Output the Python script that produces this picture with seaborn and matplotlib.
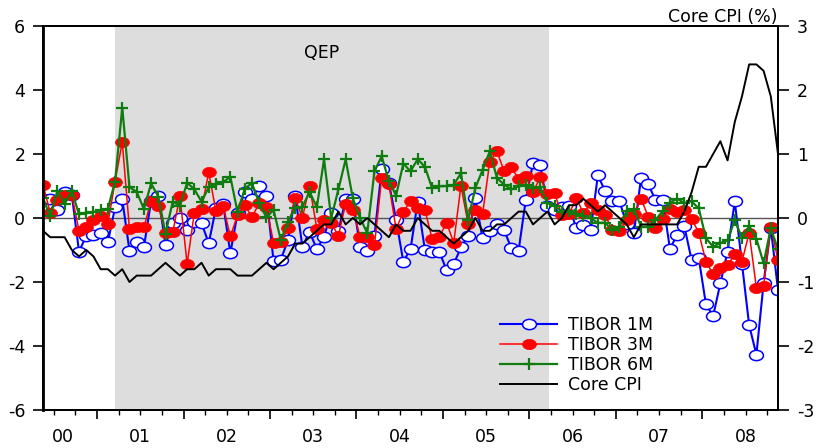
import numpy as np
import pandas as pd
import matplotlib
matplotlib.use("Agg")
import matplotlib.pyplot as plt
from matplotlib.path import Path
from matplotlib.ticker import FixedLocator, NullFormatter
import seaborn as sns

# ---------------- data (monthly, May 2000 - Nov 2008) ----------------
start_year = 2000
start_month = 5

tibor_1m = [0.60, 0.58, 0.25, 0.82, 0.72, -1.05, -0.56, -0.53, -0.46, -0.76,
            0.33, 0.58, -1.02, -0.76, -0.92, 0.54, 0.69, -0.83, -0.16, 0.01,
            -0.37, -0.11, -0.16, -0.79, 0.31, 0.44, -1.10, 0.15, 0.82, 0.60,
            1.00, 0.70, -1.35, -1.31, -0.68, 0.70, -0.90, -0.43, -0.98, -0.58,
            0.17, -0.40, 0.58, 0.58, -0.90, -1.02, -0.56, 1.52, 1.10, -0.06,
            -1.36, -0.98, 0.51, -1.00, -1.05, -1.05, -1.63, -1.44, -0.92, -0.56,
            0.61, -0.64, -0.40, -0.19, -0.38, -0.95, -1.02, 0.57, 1.72, 1.66,
            0.38, 0.25, 0.35, 0.39, -0.32, -0.21, -0.39, 1.33, 0.85, 0.52,
            0.53, -0.20, -0.48, 1.26, 1.05, 0.56, 0.57, -0.96, -0.53, -0.26,
            -1.30, -1.25, -2.70, -3.06, -2.04, -1.05, 0.52, -1.43, -3.35, -4.27,
            -2.04, -0.30, -2.25]

tibor_3m = [1.03, 0.17, 0.56, 0.72, 0.72, -0.40, -0.27, -0.06, 0.05, -0.18,
            1.14, 2.38, -0.35, -0.29, -0.29, 0.53, 0.38, -0.48, -0.45, 0.68,
            -1.44, 0.16, 0.28, 1.43, 0.21, 0.37, -0.57, 0.08, 0.40, 0.03,
            0.46, 0.34, -0.78, -0.74, -0.32, 0.62, 0.01, 1.00, -0.33, -0.07,
            -0.17, -0.55, 0.45, 0.24, -0.58, -0.59, -0.84, 1.25, 1.07, -0.35,
            0.19, 0.53, 0.32, 0.25, -0.65, -0.59, -0.15, -0.77, 1.01, -0.19,
            0.25, 0.12, 1.76, 2.08, 1.46, 1.59, 1.21, 1.30, 0.81, 1.27,
            0.75, 0.77, 0.09, 0.12, 0.62, 0.15, 0.46, 0.25, 0.08, -0.36,
            -0.40, -0.05, 0.12, 0.60, 0.04, -0.32, -0.02, 0.29, 0.19, 0.25,
            -0.02, -0.46, -1.36, -1.76, -1.57, -1.47, -1.14, -1.36, -0.46, -2.18,
            -2.13, -0.28, -1.31]

tibor_6m = [0.62, 0.05, 0.85, 0.44, 0.85, 0.11, 0.17, 0.19, 0.24, 0.29,
            1.14, 3.45, 0.96, 0.82, 0.28, 1.08, 0.67, -0.49, 0.51, 0.38,
            1.10, 0.90, 0.51, 0.96, 1.06, 1.12, 1.29, 0.18, 0.92, 1.09,
            0.46, 0.02, 0.25, -0.69, -0.11, 0.32, 0.35, 0.82, 0.33, 1.83,
            0.00, 0.90, 1.83, 0.61, 0.00, -0.47, 1.46, 1.93, 1.15, 0.70,
            1.70, 1.46, 1.84, 1.60, 0.93, 0.99, 1.00, 1.04, 1.40, -0.05,
            0.94, 1.50, 2.08, 1.25, 1.04, 0.90, 0.99, 1.02, 0.94, 0.96,
            0.47, 0.37, 0.20, 0.22, 0.11, 0.06, -0.01, -0.15, -0.15, -0.38,
            -0.27, 0.23, 0.27, -0.27, -0.27, -0.06, 0.22, 0.48, 0.60, 0.47,
            0.52, 0.30, -0.63, -0.90, -0.78, -0.70, -0.06, -0.63, -0.25, -0.65,
            -1.41, -0.32, -0.98]

core_cpi = [-0.2, -0.3, -0.3, -0.3, -0.5, -0.6, -0.5, -0.6, -0.8, -0.8,
            -0.9, -0.8, -1.0, -0.9, -0.9, -0.9, -0.8, -0.7, -0.8, -0.9,
            -0.8, -0.8, -0.7, -0.9, -0.8, -0.8, -0.8, -0.9, -0.9, -0.9,
            -0.8, -0.7, -0.8, -0.7, -0.6, -0.4, -0.4, -0.3, -0.2, -0.1,
            -0.1, 0.1, -0.1, 0.0, -0.1, 0.0, -0.1, -0.2, -0.3, -0.1,
            -0.2, -0.2, 0.0, -0.1, -0.2, -0.2, -0.3, -0.4, -0.3, -0.2,
            0.0, -0.2, -0.2, -0.1, -0.1, 0.0, 0.1, 0.1, -0.1, 0.0,
            0.1, -0.1, 0.0, 0.2, 0.2, 0.3, 0.2, 0.1, 0.2, 0.1,
            0.0, -0.1, -0.3, -0.1, -0.1, -0.1, -0.1, -0.1, -0.1, 0.1,
            0.4, 0.8, 0.8, 1.0, 1.2, 0.9, 1.5, 1.9, 2.4, 2.4,
            2.3, 1.9, 1.0]

series_labels = ["TIBOR 1M", "TIBOR 3M", "TIBOR 6M", "Core CPI"]
year_labels = ["00", "01", "02", "03", "04", "05", "06", "07", "08"]
year_label_pos = [2000.6, 2001.5, 2002.5, 2003.5, 2004.5, 2005.5, 2006.5, 2007.5, 2008.5]
left_ticks = [-6, -4, -2, 0, 2, 4, 6]
right_ticks = [-3, -2, -1, 0, 1, 2, 3]
qep_start, qep_end = 2001.21, 2006.225

# ---------------- figure ----------------
plt.rcParams["font.family"] = ["DejaVu Sans"]
n = len(core_cpi)
t = start_year + (start_month - 1 + np.arange(n) + 0.5) / 12.0
df = pd.DataFrame({"t": t, "m1": tibor_1m, "m3": tibor_3m, "m6": tibor_6m, "cpi": core_cpi})

circ = Path.unit_circle()
ellipse = Path(circ.vertices * np.array([1.35, 1.0]), circ.codes)

fig = plt.figure(figsize=(8.24, 4.48), dpi=100)
ax = fig.add_axes([43 / 824, 38 / 448, 735 / 824, 384 / 448])

ax.axvspan(qep_start, qep_end, color="#dddddd", lw=0, zorder=0)
ax.axhline(0, color="#555555", lw=1.0, zorder=1.5)

common = dict(ax=ax, estimator=None, errorbar=None, sort=False, legend=False)
sns.lineplot(data=df, x="t", y="m1", color="#0000ff", lw=1.5, marker=ellipse,
             markersize=10, markerfacecolor="white", markeredgecolor="#0000ff",
             markeredgewidth=1.1, label=series_labels[0], **common)
sns.lineplot(data=df, x="t", y="m3", color="#ff0000", lw=1.1, marker=ellipse,
             markersize=10, markerfacecolor="#ff0000", markeredgecolor="#ff0000",
             markeredgewidth=0.5, label=series_labels[1], **common)
sns.lineplot(data=df, x="t", y="m6", color="#107c10", lw=1.6, marker="+",
             markersize=8, markeredgewidth=1.6, markeredgecolor="#107c10",
             label=series_labels[2], **common)
lines_left = ax.get_lines()[-3:]

ax2 = ax.twinx()
sns.lineplot(data=df, x="t", y="cpi", ax=ax2, color="black", lw=1.4,
             estimator=None, errorbar=None, sort=False, legend=False,
             label=series_labels[3])
line_cpi = ax2.get_lines()[-1]

ax.set_xlim(t[0], t[-1])
ax.set_ylim(-6, 6)
ax2.set_ylim(-3, 3)
ax.set_xlabel("")
ax.set_ylabel("")
ax2.set_ylabel("")

ax.set_yticks(left_ticks)
ax.set_yticklabels([str(v) for v in left_ticks])
ax2.set_yticks(right_ticks)
ax2.set_yticklabels([str(v) for v in right_ticks])

ax.xaxis.set_major_locator(FixedLocator(np.arange(2001, 2009)))
ax.xaxis.set_minor_locator(FixedLocator([y + q for y in range(2000, 2009) for q in (0.25, 0.5, 0.75)]))
ax.xaxis.set_major_formatter(NullFormatter())
ax.tick_params(axis="x", which="major", length=6.7, width=1.2, direction="out")
ax.tick_params(axis="x", which="minor", length=3.8, width=1.0, direction="out")
ax.tick_params(axis="y", length=7.2, width=1.2, pad=5.5, labelsize=12.5)
ax2.tick_params(axis="y", length=8, width=1.2, pad=5.5, labelsize=12.5)

sec = ax.secondary_xaxis("bottom")
sec.set_xticks(year_label_pos, labels=year_labels)
sec.tick_params(length=0, pad=13, labelsize=12.5)
sec.spines["bottom"].set_visible(False)

for a in (ax, ax2):
    for s in a.spines.values():
        s.set_linewidth(1.4)
ax.spines["left"].set_linewidth(2.0)

ax.text(2003.6, 5.16, "QEP", ha="center", va="center", fontsize=12.5)
ax.text(1.0, 1.0, "Core CPI (%)", transform=ax.transAxes, ha="right", va="bottom", fontsize=12.5)

handles = list(lines_left) + [line_cpi]
ax2.legend(handles, series_labels, loc="upper left", bbox_to_anchor=(0.622, 0.245),
           frameon=False, fontsize=12.5, handlelength=3.3, handletextpad=0.6,
           labelspacing=0.12, borderaxespad=0, borderpad=0, numpoints=1)

fig.savefig("out.png", dpi=100)
